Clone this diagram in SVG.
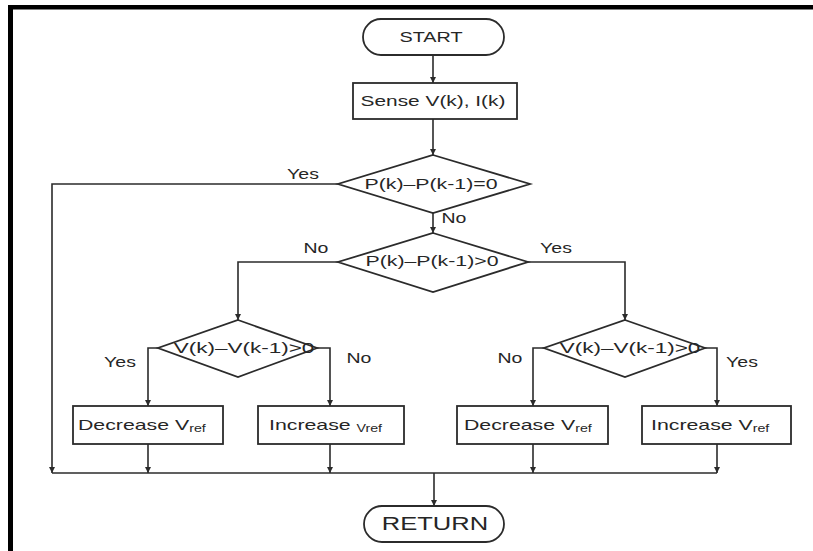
<svg xmlns="http://www.w3.org/2000/svg" width="813" height="551" viewBox="0 0 813 551">
<style>
.shape{fill:#fff;stroke:#2b2b2b;stroke-width:1.8}
.ln{fill:none;stroke:#2b2b2b;stroke-width:1.6}
.t{font-family:"Liberation Sans",Arial,sans-serif;font-size:15px;fill:#262626}
.c{text-anchor:middle}
.sub{font-size:10px}
</style>
<defs>
<marker id="ah" viewBox="0 0 10 10" refX="10" refY="5" markerWidth="6" markerHeight="6" markerUnits="userSpaceOnUse" orient="auto">
<path d="M0,0 L10,5 L0,10 z" fill="#2b2b2b"/>
</marker>
</defs>
<rect width="813" height="551" fill="#fff"/>
<g id="frame">
<rect x="8" y="5" width="805" height="4.5" fill="#000"/>
<rect x="8" y="5" width="5" height="546" fill="#000"/>
</g>
<g id="connectors">
<path class="ln" d="M433,55 V83" marker-end="url(#ah)"/>
<path class="ln" d="M433,119 V155" marker-end="url(#ah)"/>
<path class="ln" d="M338,184 H52 V473" marker-end="url(#ah)"/>
<path class="ln" d="M433,213 V233" marker-end="url(#ah)"/>
<path class="ln" d="M338,262 H238 V320" marker-end="url(#ah)"/>
<path class="ln" d="M528,262 H625 V320" marker-end="url(#ah)"/>
<path class="ln" d="M158,348 H148 V406" marker-end="url(#ah)"/>
<path class="ln" d="M317,348 H330 V406" marker-end="url(#ah)"/>
<path class="ln" d="M544,348 H533 V406" marker-end="url(#ah)"/>
<path class="ln" d="M705,348 H717 V406" marker-end="url(#ah)"/>
<path class="ln" d="M148,444 V473" marker-end="url(#ah)"/>
<path class="ln" d="M330,444 V473" marker-end="url(#ah)"/>
<path class="ln" d="M533,444 V473" marker-end="url(#ah)"/>
<path class="ln" d="M717,444 V473" marker-end="url(#ah)"/>
<path class="ln" d="M52,473 H717"/>
<path class="ln" d="M434,473 V506" marker-end="url(#ah)"/>
<text class="t c" transform="translate(303 179) scale(1.3 1)">Yes</text>
<text class="t c" transform="translate(454 223) scale(1.3 1)">No</text>
<text class="t c" transform="translate(316 253) scale(1.3 1)">No</text>
<text class="t c" transform="translate(556 253) scale(1.3 1)">Yes</text>
<text class="t c" transform="translate(120 367) scale(1.3 1)">Yes</text>
<text class="t c" transform="translate(359 363) scale(1.3 1)">No</text>
<text class="t c" transform="translate(510 363) scale(1.3 1)">No</text>
<text class="t c" transform="translate(742 367) scale(1.3 1)">Yes</text>
</g>
<g id="start">
<rect class="shape" x="363" y="19" width="141" height="36" rx="18"/>
<text class="t c" transform="translate(431 42) scale(1.32 1)">START</text>
</g>
<g id="sense">
<rect class="shape" x="353" y="83" width="164" height="36"/>
<text class="t c" transform="translate(433 106) scale(1.39 1)">Sense V(k), I(k)</text>
</g>
<g id="dec1">
<polygon class="shape" points="433,155 530,184 433,213 338,184"/>
<text class="t c" transform="translate(431 189) scale(1.42 1)">P(k)–P(k-1)=0</text>
</g>
<g id="dec2">
<polygon class="shape" points="433,233 528,262 433,292 338,262"/>
<text class="t c" transform="translate(432 266) scale(1.42 1)">P(k)–P(k-1)&gt;0</text>
</g>
<g id="dec3">
<polygon class="shape" points="238,320 317,348 238,377 158,348"/>
<text class="t c" transform="translate(244 353) scale(1.5 1)">V(k)–V(k-1)&gt;0</text>
</g>
<g id="dec4">
<polygon class="shape" points="625,320 705,348 625,377 544,348"/>
<text class="t c" transform="translate(630 353) scale(1.5 1)">V(k)–V(k-1)&gt;0</text>
</g>
<g id="box1">
<rect class="shape" x="73" y="406" width="150" height="38"/>
<text class="t" transform="translate(78 430) scale(1.42 1)">Decrease V<tspan class="sub" dy="2">ref</tspan></text>
</g>
<g id="box2">
<rect class="shape" x="258" y="406" width="146" height="38"/>
<text class="t" transform="translate(269 430) scale(1.42 1)">Increase <tspan class="sub" dy="2">Vref</tspan></text>
</g>
<g id="box3">
<rect class="shape" x="457" y="406" width="151" height="38"/>
<text class="t" transform="translate(464 430) scale(1.42 1)">Decrease V<tspan class="sub" dy="2">ref</tspan></text>
</g>
<g id="box4">
<rect class="shape" x="642" y="406" width="149" height="38"/>
<text class="t" transform="translate(651 430) scale(1.42 1)">Increase V<tspan class="sub" dy="2">ref</tspan></text>
</g>
<g id="return">
<rect class="shape" x="364" y="506" width="140" height="36" rx="18"/>
<text class="t c" style="font-size:18.5px" transform="translate(435 530) scale(1.38 1)">RETURN</text>
</g>
</svg>
